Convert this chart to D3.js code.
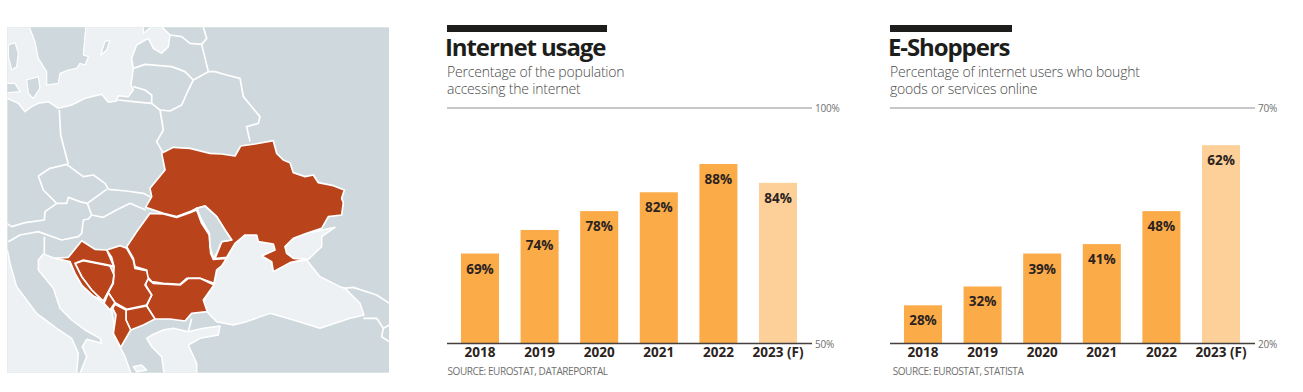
<!DOCTYPE html>
<html>
<head>
<meta charset="utf-8">
<script src="https://cdn.jsdelivr.net/npm/d3@7"></script>
<style>
html, body { margin: 0; padding: 0; background: #fff; }
svg { display: block; font-family: "Open Sans", sans-serif; }
.title { font-size: 24px; font-weight: 700; fill: #1d1d1b; letter-spacing: -1.1px; }
.subtitle { font-size: 14px; font-weight: 300; fill: #4a4a4a; letter-spacing: -0.2px; }
.source { font-size: 10px; fill: #6f6f6f; letter-spacing: -0.42px; }
.value { font-size: 13.5px; font-weight: 700; fill: #2b2320; text-anchor: middle; }
.yearAxis text { font-size: 13.5px; font-weight: 700; fill: #2b2320; font-family: "Open Sans", sans-serif; }
.pctAxis text { font-size: 10px; fill: #6f6f6f; font-family: "Open Sans", sans-serif; letter-spacing: -0.2px; }
</style>
</head>
<body>
<svg id="chart" width="1303" height="392"></svg>
<script>
var years = ["2018", "2019", "2020", "2021", "2022", "2023 (F)"];
var internetUsage = [69, 74, 78, 82, 88, 84];
var eShoppers = [28, 32, 39, 41, 48, 62];
var internetTicks = [50, 100];
var shopperTicks = [20, 70];

// map outlines in a 1200 x 1080 grid
var ukraine = [[485,400],[520,382],[570,385],[630,400],[665,402],[705,408],[722,378],[765,372],[820,362],[830,400],[850,420],[870,428],[880,458],[915,470],[940,465],[955,488],[1000,497],[1033,510],[1025,535],[1030,548],[1025,585],[985,590],[965,625],[920,640],[880,655],[855,680],[860,700],[880,715],[915,718],[870,728],[820,755],[815,725],[785,708],[825,690],[820,672],[775,665],[770,645],[735,645],[705,670],[680,712],[645,716],[665,665],[695,660],[675,630],[650,590],[615,558],[590,565],[570,575],[530,590],[490,580],[437,562],[455,530],[450,505],[495,450]];
var romania = [[450,580],[490,582],[530,592],[570,578],[590,570],[605,610],[628,645],[632,700],[640,718],[680,715],[665,738],[650,750],[642,790],[600,775],[560,775],[540,793],[490,790],[455,785],[442,770],[440,750],[405,740],[400,715],[380,680],[410,635]];
var bulgaria = [[442,775],[460,790],[540,795],[565,775],[600,775],[642,795],[610,840],[622,875],[575,880],[555,903],[510,897],[465,897],[440,858],[455,825],[437,795]];
var serbia = [[320,690],[360,677],[380,685],[400,720],[405,745],[440,752],[445,775],[435,795],[455,825],[440,855],[380,868],[345,848],[325,818],[340,790],[342,740],[335,712]];
var macedonia = [[378,870],[440,858],[465,897],[430,915],[392,930],[378,900]];
var montenegro = [[325,818],[345,848],[330,870],[312,850]];
var albania = [[345,853],[378,870],[378,900],[392,930],[362,982],[340,940],[348,885],[338,865]];
var bosnia = [[225,730],[250,722],[330,738],[342,765],[338,790],[310,843],[275,810],[245,770]];
var croatia = [[245,662],[285,688],[320,690],[342,740],[330,736],[250,720],[225,730],[245,770],[275,810],[305,840],[280,828],[245,795],[225,760],[210,725],[165,715],[205,712]];
var moldova = [[590,565],[615,558],[650,590],[675,630],[695,660],[665,665],[650,700],[640,715],[630,680],[628,640],[605,600]];

var blackSea = [[610,845],[640,795],[650,750],[680,715],[705,670],[735,645],[770,645],[775,665],[820,672],[825,690],[785,708],[815,725],[820,755],[870,728],[920,720],[960,770],[1020,800],[1035,805],[1080,850],[1092,885],[1050,895],[960,925],[880,900],[810,880],[740,905],[700,915],[650,905],[625,880]];
var azov = [[855,680],[880,655],[920,640],[1005,622],[965,650],[965,680],[925,718],[880,715],[860,700]];
var baltic = [[0,0],[0,225],[55,250],[75,275],[95,260],[115,250],[145,245],[175,265],[215,255],[255,235],[305,223],[325,247],[350,243],[355,227],[385,230],[400,210],[393,195],[400,145],[395,115],[410,75],[445,55],[460,85],[485,100],[505,80],[510,45],[485,20],[480,0]];
var sweden = [[80,0],[105,65],[115,115],[140,155],[140,195],[175,190],[180,160],[205,150],[230,145],[240,130],[255,135],[265,110],[250,105],[255,45],[260,0]];
var norway = [[25,75],[45,68],[55,100],[50,140],[35,150],[25,110]];
var zealand = [[80,180],[115,170],[120,205],[100,235],[85,220]];
var jutland = [[0,190],[45,190],[60,215],[0,220]];
var gotland = [[302,105],[315,65],[330,60],[320,90]];
var saaremaa = [[430,40],[455,20],[430,15]];
var tyrrhenian = [[0,690],[22,690],[30,730],[50,800],[110,880],[170,925],[215,955],[235,1000],[228,1080],[0,1080]];
var adriatic = [[130,702],[165,715],[210,725],[225,760],[245,795],[280,828],[310,850],[335,870],[345,935],[362,985],[375,1010],[400,1080],[232,1080],[260,1010],[247,980],[260,958],[305,970],[300,955],[255,930],[215,900],[180,865],[160,805],[115,750],[115,720]];
var aegean = [[440,955],[455,945],[490,930],[520,925],[565,935],[610,925],[660,918],[655,945],[600,955],[565,975],[590,1030],[590,1080],[495,1080],[485,1010],[455,980]];
var corinth = [[400,1040],[425,1035],[440,1050],[410,1055]];

var seas = [baltic, blackSea, azov, tyrrhenian, adriatic, aegean, corinth];
var islands = [sweden, norway, zealand, jutland, gotland, saaremaa];
var redCountries = [ukraine, romania, bulgaria, serbia, macedonia, montenegro, albania, bosnia, croatia];

var borders = [
    [[178,270],[182,345],[195,395],[205,432]],
    [[115,468],[150,445],[200,433],[250,470],[280,465],[315,490],[325,508]],
    [[325,508],[380,513],[430,520],[450,530]],
    [[115,468],[130,510],[170,550],[200,550],[205,532],[240,545],[262,550],[320,508]],
    [[262,550],[275,585],[310,592],[345,572],[390,550],[437,570]],
    [[170,550],[135,575],[133,600],[75,608],[35,620],[20,610]],
    [[275,585],[265,597],[250,600],[245,640],[235,650],[185,660],[115,635],[60,645],[25,665]],
    [[133,650],[133,705]],
    [[480,270],[490,330],[470,365],[490,400]],
    [[355,240],[400,245],[455,250],[480,270]],
    [[400,200],[435,210],[455,225],[455,253]],
    [[480,270],[510,273],[545,255],[565,210],[580,180]],
    [[400,145],[435,133],[515,140],[555,155],[580,180]],
    [[580,180],[625,155],[645,155],[680,165],[720,175],[730,230],[780,290],[775,310],[740,320],[750,365]],
    [[510,45],[545,50],[570,70],[605,73],[625,155]],
    [[610,22],[620,55],[605,73]],
    [[1030,805],[1060,802],[1130,825],[1168,850]],
    [[1090,895],[1130,895],[1150,925],[1145,950],[1168,965]],
    [[1150,925],[1168,915]],
    [[575,895],[565,935]]
];

var svg = d3.select("#chart");

var mapX = d3.scaleLinear().domain([0, 1200]).range([0, 400]);
var mapY = d3.scaleLinear().domain([0, 1080]).range([20, 380]);
var mapLine = d3.line()
    .x(function (d) { return mapX(d[0]); })
    .y(function (d) { return mapY(d[1]); })
    .curve(d3.curveLinearClosed);
var borderLine = d3.line()
    .x(function (d) { return mapX(d[0]); })
    .y(function (d) { return mapY(d[1]); })
    .curve(d3.curveLinear);

function drawMap() {
    svg.append("defs").append("clipPath").attr("id", "mapClip")
        .append("rect")
        .attr("x", mapX(22)).attr("y", mapY(22))
        .attr("width", mapX(1167) - mapX(22)).attr("height", mapY(1058) - mapY(22));

    var map = svg.append("g").attr("clip-path", "url(#mapClip)")
        .attr("stroke-linejoin", "round");

    map.append("rect")
        .attr("x", mapX(0)).attr("y", mapY(0))
        .attr("width", mapX(1200)).attr("height", mapY(1080) - mapY(0))
        .attr("fill", "#cfd8dc");

    map.selectAll(".sea").data(seas).enter().append("path")
        .attr("class", "sea")
        .attr("d", mapLine)
        .attr("fill", "#edf1f3")
        .attr("stroke", "#fff")
        .attr("stroke-width", 1.5);

    map.selectAll(".island").data(islands).enter().append("path")
        .attr("class", "island")
        .attr("d", mapLine)
        .attr("fill", "#cfd8dc")
        .attr("stroke", "#fff")
        .attr("stroke-width", 1.2);

    map.selectAll(".border").data(borders).enter().append("path")
        .attr("class", "border")
        .attr("d", borderLine)
        .attr("fill", "none")
        .attr("stroke", "#fff")
        .attr("stroke-width", 1.7);

    map.selectAll(".red").data(redCountries).enter().append("path")
        .attr("class", "red")
        .attr("d", mapLine)
        .attr("fill", "#b9431b")
        .attr("stroke", "#fff")
        .attr("stroke-width", 1.7);

    map.append("path").datum(moldova)
        .attr("d", mapLine)
        .attr("fill", "#cfd8dc")
        .attr("stroke", "#fff")
        .attr("stroke-width", 1.7);
}

function drawChart(opts) {
    var g = svg.append("g");

    g.append("rect")
        .attr("x", opts.left).attr("y", 25)
        .attr("width", opts.barWidth).attr("height", 7)
        .attr("fill", "#1d1d1b");

    g.append("text").attr("class", "title")
        .attr("x", opts.left - 2).attr("y", 56)
        .text(opts.title);

    g.selectAll(".subtitle").data(opts.subtitle).enter().append("text")
        .attr("class", "subtitle")
        .attr("x", opts.left)
        .attr("y", function (d, i) { return 77 + i * 17; })
        .text(function (d) { return d; });

    g.append("text").attr("class", "source")
        .attr("x", opts.sourceX).attr("y", 375)
        .text(opts.source);

    var x = d3.scaleBand().domain(years)
        .range([opts.left + 14 - 22 + 0.4, opts.left + 350 + 22 - 0.4])
        .padding(0.362);
    var y = d3.scaleLinear().domain(opts.ticks).range([343, 107.5]);

    var pctAxis = g.append("g").attr("class", "pctAxis")
        .attr("transform", "translate(" + (opts.left + 365) + ",0)")
        .call(d3.axisRight(y).tickValues(opts.ticks).tickSize(-365).tickPadding(3)
            .tickFormat(function (d) { return d + "%"; }));
    pctAxis.select(".domain").remove();
    pctAxis.selectAll("line")
        .attr("stroke", function (d) { return d === opts.ticks[0] ? "#45403d" : "#b5b5b5"; })
        .attr("stroke-width", 1.3);
    pctAxis.selectAll("text").attr("dy", "0.42em");

    g.selectAll(".bar").data(opts.values).enter().append("rect")
        .attr("class", "bar")
        .attr("x", function (d, i) { return x(years[i]); })
        .attr("y", function (d) { return y(d); })
        .attr("width", x.bandwidth())
        .attr("height", function (d) { return y(opts.ticks[0]) - y(d); })
        .attr("fill", function (d, i) { return i === years.length - 1 ? "#fdd09a" : "#fbab48"; });

    // bars were drawn after the axis, so put the baseline back on top
    pctAxis.raise();

    g.selectAll(".value").data(opts.values).enter().append("text")
        .attr("class", "value")
        .attr("x", function (d, i) { return x(years[i]) + x.bandwidth() / 2; })
        .attr("y", function (d) { return y(d) + 20; })
        .text(function (d) { return d + "%"; });

    var yearAxis = g.append("g").attr("class", "yearAxis")
        .attr("transform", "translate(0,343)")
        .call(d3.axisBottom(x).tickSize(0).tickPadding(4));
    yearAxis.select(".domain").remove();
}

drawMap();

drawChart({
    title: "Internet usage",
    subtitle: ["Percentage of the population", "accessing the internet"],
    source: "SOURCE: EUROSTAT, DATAREPORTAL",
    values: internetUsage,
    ticks: internetTicks,
    left: 447,
    barWidth: 160,
    sourceX: 447.5
});

drawChart({
    title: "E-Shoppers",
    subtitle: ["Percentage of internet users who bought", "goods or services online"],
    source: "SOURCE: EUROSTAT, STATISTA",
    values: eShoppers,
    ticks: shopperTicks,
    left: 890,
    barWidth: 122,
    sourceX: 892.7
});
</script>
</body>
</html>
